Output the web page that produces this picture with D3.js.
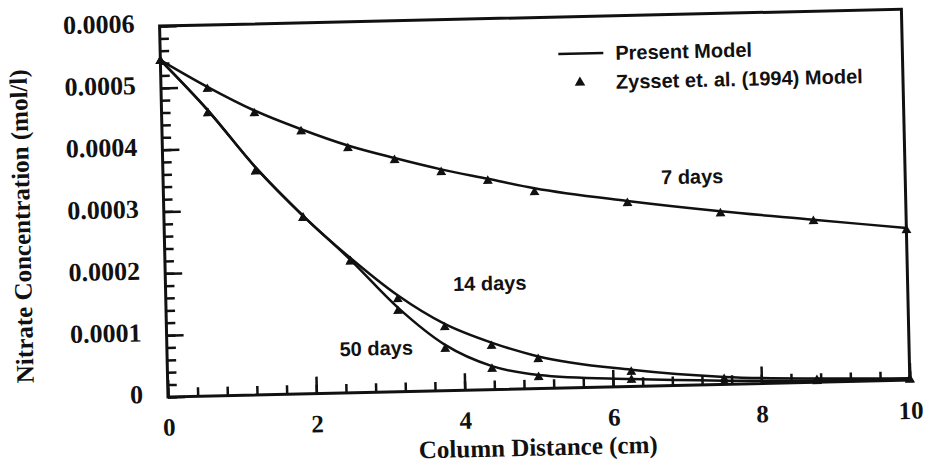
<!DOCTYPE html>
<html>
<head>
<meta charset="utf-8">
<script src="https://cdn.jsdelivr.net/npm/d3@7"></script>
<style>
  body { margin: 0; background: #fff; }
</style>
</head>
<body>
<div id="chart-container"></div>
<script>
/**************************************************
 * Data
 **************************************************/

// column distances (cm) where both models are plotted
const distances = [0, 0.625, 1.25, 1.875, 2.5, 3.125, 3.75, 4.375, 5, 6.25, 7.5, 8.75, 10];

// Present Model (solid lines), nitrate concentration in mol/l
const present7 = [0.000545, 0.000500, 0.000460, 0.000428, 0.000400, 0.000378, 0.000358, 0.000341, 0.000324, 0.000300, 0.000280, 0.000263, 0.000246];
const present14 = [0.000545, 0.000462, 0.000368, 0.000288, 0.000218, 0.000156, 0.000108, 0.000076, 0.000052, 0.000027, 0.000012, 0.000006, 0.000003];
const present50 = [0.000545, 0.000462, 0.000368, 0.000288, 0.000215, 0.000136, 0.000074, 0.000038, 0.000022, 0.000012, 0.000006, 0.000003, 0.000002];

// Zysset et. al. (1994) Model (triangles)
const zysset7 = [0.000545, 0.000498, 0.000457, 0.000426, 0.000397, 0.000376, 0.000355, 0.000339, 0.000319, 0.000298, 0.000278, 0.000262, 0.000244];
const zysset14 = [0.000545, 0.000459, 0.000363, 0.000286, 0.000214, 0.000151, 0.000104, 0.000072, 0.000049, 0.000025, 0.000010, 0.000005, 0.000003];
const zysset50 = [0.000545, 0.000459, 0.000363, 0.000286, 0.000214, 0.000132, 0.000069, 0.000035, 0.000020, 0.000012, 0.000005, 0.000003, 0.000002];

const curveLabels = ["7 days", "14 days", "50 days"];
const legendLabels = ["Present Model", "Zysset et. al. (1994) Model"];

// axis ticks
const xTickValues = [0, 2, 4, 6, 8, 10];
const xTickLabels = ["0", "2", "4", "6", "8", "10"];
const xMinorTicks = d3.range(0, 10.01, 0.4);
const yTickValues = [0, 0.0001, 0.0002, 0.0003, 0.0004, 0.0005, 0.0006];
const yTickLabels = ["0", "0.0001", "0.0002", "0.0003", "0.0004", "0.0005", "0.0006"];
const yMinorTicks = d3.range(0, 0.000601, 0.00002);

/**************************************************
 * Rendering
 **************************************************/

const width = 929, height = 466;
const serif = "'Liberation Serif', 'DejaVu Serif', serif";
const sans = "'Liberation Sans', Arial, sans-serif";

const svg = d3.select("#chart-container")
  .append("svg")
  .attr("width", width)
  .attr("height", height);

// the scan is tilted a little, so everything sits in one slightly rotated group
const g = svg.append("g")
  .attr("transform", "rotate(-1.3,167,397)");

const xScale = d3.scaleLinear().domain([0, 10]).range([168, 910]);
const yScale = d3.scaleLinear().domain([0, 0.0006]).range([397, 26]);

// frame
g.append("rect")
  .attr("x", xScale(0))
  .attr("y", yScale(0.0006))
  .attr("width", xScale(10) - xScale(0))
  .attr("height", yScale(0) - yScale(0.0006))
  .attr("fill", "none")
  .attr("stroke", "#111")
  .attr("stroke-width", 3);

// y axis: minor + major ticks pointing inwards
g.append("g")
  .attr("transform", `translate(${xScale(0)},0)`)
  .call(d3.axisLeft(yScale).tickValues(yMinorTicks).tickSize(-9).tickSizeOuter(0).tickFormat(""))
  .call(a => a.select(".domain").remove())
  .call(a => a.selectAll("line").attr("stroke", "#111").attr("stroke-width", 2.5));

g.append("g")
  .attr("transform", `translate(${xScale(0)},0)`)
  .call(d3.axisLeft(yScale).tickValues(yTickValues).tickSize(-17).tickSizeOuter(0)
    .tickPadding(25).tickFormat((d, i) => yTickLabels[i]))
  .call(a => a.select(".domain").remove())
  .call(a => a.selectAll("line").attr("stroke", "#111").attr("stroke-width", 2.5))
  .call(a => a.selectAll("text")
    .attr("dy", "0.2em")
    .attr("fill", "#111")
    .style("font-family", serif)
    .style("font-weight", "bold")
    .style("font-size", "26px"));

// x axis
g.append("g")
  .attr("transform", `translate(0,${yScale(0)})`)
  .call(d3.axisBottom(xScale).tickValues(xMinorTicks).tickSize(-9).tickSizeOuter(0).tickFormat(""))
  .call(a => a.select(".domain").remove())
  .call(a => a.selectAll("line").attr("stroke", "#111").attr("stroke-width", 2.5));

g.append("g")
  .attr("transform", `translate(0,${yScale(0)})`)
  .call(d3.axisBottom(xScale).tickValues(xTickValues).tickSize(-17).tickSizeOuter(0)
    .tickPadding(21).tickFormat((d, i) => xTickLabels[i]))
  .call(a => a.select(".domain").remove())
  .call(a => a.selectAll("line").attr("stroke", "#111").attr("stroke-width", 2.5))
  .call(a => a.selectAll("text")
    .attr("fill", "#111")
    .style("font-family", serif)
    .style("font-weight", "bold")
    .style("font-size", "25px"));

// axis titles
g.append("text")
  .attr("x", (xScale(0) + xScale(10)) / 2 - 2)
  .attr("y", 464)
  .attr("text-anchor", "middle")
  .attr("fill", "#111")
  .style("font-family", serif)
  .style("font-weight", "bold")
  .style("font-size", "25px")
  .text("Column Distance (cm)");

g.append("text")
  .attr("transform", "translate(34,223) rotate(-90)")
  .attr("text-anchor", "middle")
  .attr("fill", "#111")
  .style("font-family", serif)
  .style("font-weight", "bold")
  .style("font-size", "25px")
  .text("Nitrate Concentration (mol/l)");

// model curves
const line = d3.line()
  .x((d, i) => xScale(distances[i]))
  .y(d => yScale(d))
  .curve(d3.curveMonotoneX);

[present7, present14, present50].forEach(series => {
  g.append("path")
    .datum(series)
    .attr("d", line)
    .attr("fill", "none")
    .attr("stroke", "#111")
    .attr("stroke-width", 2.5);
});

// triangles for the Zysset model
const tri = d3.symbol().type(d3.symbolTriangle).size(42);
[zysset7, zysset14, zysset50].forEach(series => {
  g.append("g")
    .selectAll("path")
    .data(series)
    .enter()
    .append("path")
    .attr("d", tri)
    .attr("transform", (d, i) => `translate(${xScale(distances[i])},${yScale(d) + 1})`)
    .attr("fill", "#111");
});

// curve annotations
const labelSpots = [[7.13, 0.000337], [4.37, 0.000172], [2.82, 0.000071]];
curveLabels.forEach((t, i) => {
  g.append("text")
    .attr("x", xScale(labelSpots[i][0]))
    .attr("y", yScale(labelSpots[i][1]))
    .attr("dy", "0.35em")
    .attr("text-anchor", "middle")
    .attr("fill", "#111")
    .style("font-family", sans)
    .style("font-weight", "bold")
    .style("font-size", "20px")
    .text(t);
});

// legend
const legend = g.append("g").attr("transform", "translate(566,63)");
legend.append("line")
  .attr("x1", 0).attr("x2", 45)
  .attr("y1", 0).attr("y2", 0)
  .attr("stroke", "#111")
  .attr("stroke-width", 2.5);
legend.append("path")
  .attr("d", d3.symbol().type(d3.symbolTriangle).size(48))
  .attr("transform", "translate(21,29)")
  .attr("fill", "#111");
legendLabels.forEach((t, i) => {
  legend.append("text")
    .attr("x", 57)
    .attr("y", i * 29)
    .attr("dy", "0.35em")
    .attr("fill", "#111")
    .style("font-family", sans)
    .style("font-weight", "bold")
    .style("font-size", "20px")
    .text(t);
});
</script>
</body>
</html>
